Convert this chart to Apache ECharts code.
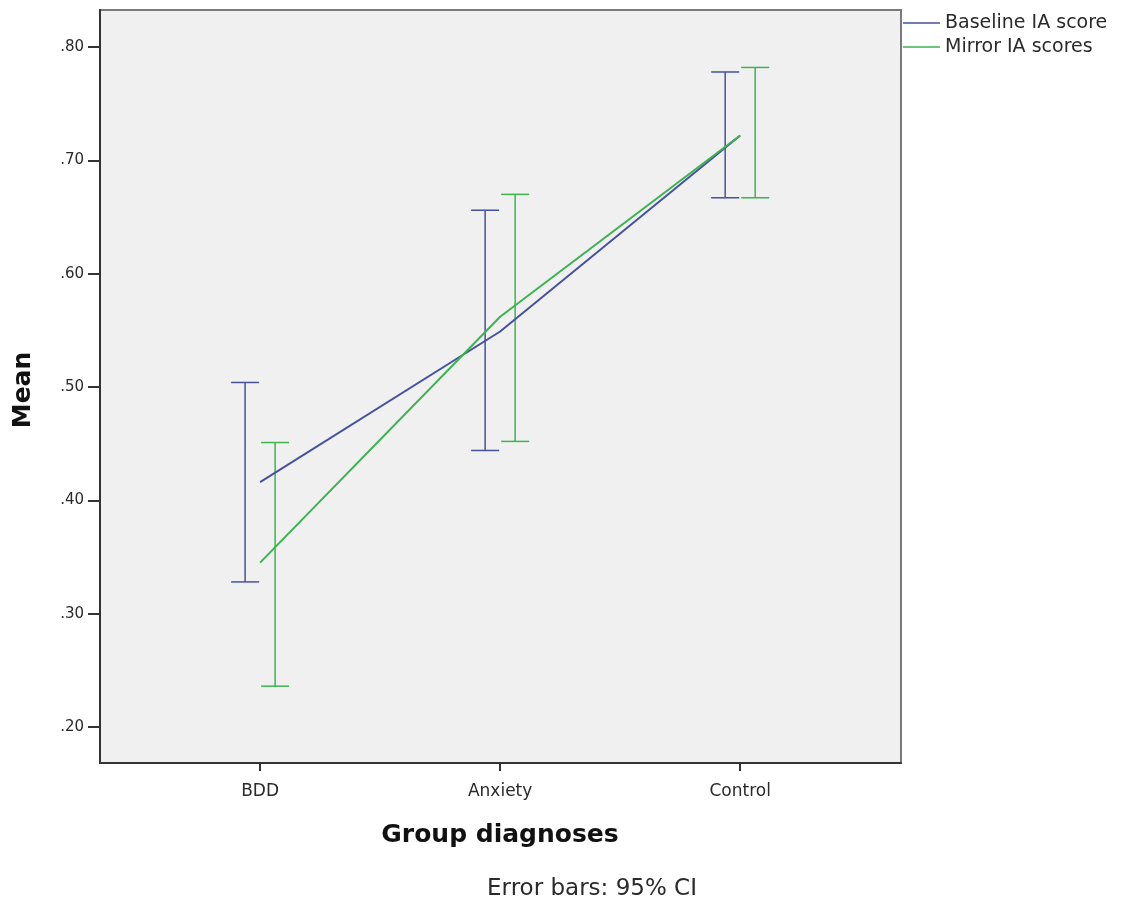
<!DOCTYPE html>
<html>
<head>
<meta charset="utf-8">
<script src="https://cdn.jsdelivr.net/npm/echarts@6/dist/echarts.min.js"></script>
<style>html,body{margin:0;padding:0;background:#fff;}#c{width:1130px;height:904px;}</style>
</head>
<body>
<div id="c"></div>
<script>
const categories = ['BDD', 'Anxiety', 'Control'];
const seriesNames = ['Baseline IA score', 'Mirror IA scores'];
const baselineMean = [0.416, 0.549, 0.722];
const baselineLow  = [0.328, 0.444, 0.667];
const baselineHigh = [0.504, 0.656, 0.778];
const mirrorMean = [0.345, 0.562, 0.722];
const mirrorLow  = [0.236, 0.452, 0.667];
const mirrorHigh = [0.451, 0.670, 0.782];
const yTicks = [0.2, 0.3, 0.4, 0.5, 0.6, 0.7, 0.8];
const xTicks = [0, 1, 2];
const xTitle = 'Group diagnoses';
const yTitle = 'Mean';
const footnote = 'Error bars: 95% CI';

const BLUE = '#46519f';
const GREEN = '#3db350';
const FONT = '"DejaVu Sans", "Liberation Sans", Arial, sans-serif';

function errSeries(name, low, high, color, offset) {
  return {
    type: 'custom',
    name: name,
    silent: true,
    z: 3,
    data: categories.map((c, i) => [i, low[i], high[i]]),
    renderItem: function (params, api) {
      const x = api.value(0) + offset;
      const lo = api.coord([x, api.value(1)]);
      const hi = api.coord([x, api.value(2)]);
      const hw = 14;
      const style = { stroke: color, lineWidth: 1.5 };
      return {
        type: 'group',
        children: [
          { type: 'line', shape: { x1: lo[0], y1: lo[1], x2: hi[0], y2: hi[1] }, style: style },
          { type: 'line', shape: { x1: lo[0] - hw, y1: lo[1], x2: lo[0] + hw, y2: lo[1] }, style: style },
          { type: 'line', shape: { x1: hi[0] - hw, y1: hi[1], x2: hi[0] + hw, y2: hi[1] }, style: style }
        ]
      };
    }
  };
}

const chart = echarts.init(document.getElementById('c'), null, { renderer: 'canvas' });
chart.setOption({
  animation: false,
  backgroundColor: '#ffffff',
  textStyle: { fontFamily: FONT },
  grid: {
    left: 100, right: 229, top: 10, bottom: 141,
    show: true, backgroundColor: '#f0f0f0', borderColor: '#7a7a7a', borderWidth: 2
  },
  legend: {
    data: seriesNames,
    orient: 'vertical',
    left: 903, top: 13,
    padding: 0,
    itemWidth: 37, itemHeight: 1.5, itemGap: 4,
    icon: 'rect',
    textStyle: { fontFamily: FONT, fontSize: 19, lineHeight: 20, color: '#2a2a2a' },
    selectedMode: false
  },
  xAxis: {
    type: 'value',
    min: -0.667, max: 2.67,
    splitLine: { show: false },
    axisLine: { show: true, onZero: false, lineStyle: { color: '#333', width: 2 } },
    axisTick: { show: true, customValues: xTicks, length: 8, lineStyle: { color: '#333', width: 2 } },
    axisLabel: {
      customValues: xTicks,
      formatter: v => categories[Math.round(v)] || '',
      fontFamily: FONT, fontSize: 17, color: '#2a2a2a', margin: 20
    }
  },
  yAxis: {
    type: 'value',
    min: 0.1682, max: 0.8327,
    splitLine: { show: false },
    axisLine: { show: true, onZero: false, lineStyle: { color: '#333', width: 2 } },
    axisTick: { show: true, customValues: yTicks, length: 12, lineStyle: { color: '#333', width: 2 } },
    axisLabel: {
      customValues: yTicks,
      formatter: v => '.' + Math.round(v * 100).toString().padStart(2, '0'),
      fontFamily: FONT, fontSize: 15, color: '#2a2a2a', margin: 16
    }
  },
  graphic: [
    {
      type: 'text', x: 500, y: 835,
      style: { text: xTitle, font: 'bold 25px ' + FONT, fill: '#111', textAlign: 'center', textVerticalAlign: 'middle' }
    },
    {
      type: 'text', x: 23, y: 390, rotation: Math.PI / 2,
      style: { text: yTitle, font: 'bold 25px ' + FONT, fill: '#111', textAlign: 'center', textVerticalAlign: 'middle' }
    },
    {
      type: 'text', x: 592, y: 889,
      style: { text: footnote, font: '23px ' + FONT, fill: '#2a2a2a', textAlign: 'center', textVerticalAlign: 'middle' }
    }
  ],
  series: [
    {
      type: 'line', name: seriesNames[0],
      data: categories.map((c, i) => [i, baselineMean[i]]),
      symbol: 'none', lineStyle: { color: BLUE, width: 2 }, itemStyle: { color: BLUE }, z: 4
    },
    {
      type: 'line', name: seriesNames[1],
      data: categories.map((c, i) => [i, mirrorMean[i]]),
      symbol: 'none', lineStyle: { color: GREEN, width: 2 }, itemStyle: { color: GREEN }, z: 4
    },
    errSeries('errB', baselineLow, baselineHigh, BLUE, -0.0625),
    errSeries('errM', mirrorLow, mirrorHigh, GREEN, 0.0625)
  ]
});
</script>
</body>
</html>
